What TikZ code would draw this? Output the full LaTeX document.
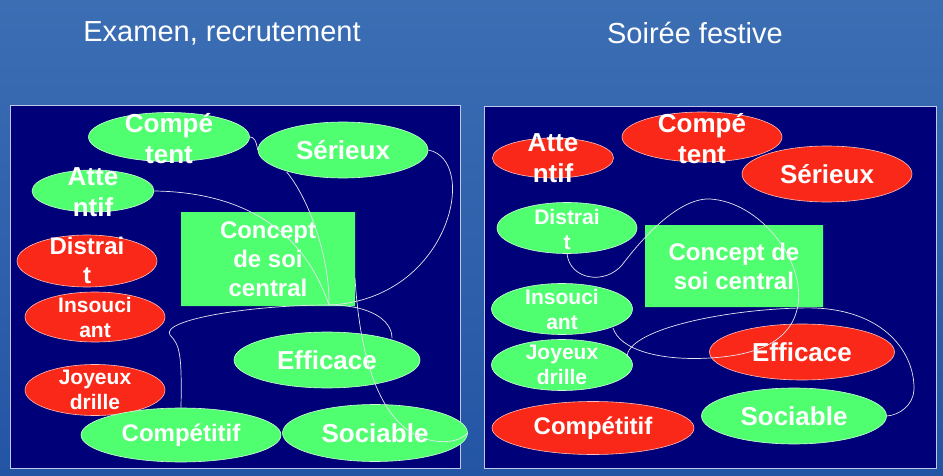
\documentclass[tikz,border=0pt]{standalone}
\usepackage{fontspec}
\setmainfont{Liberation Sans}
\usetikzlibrary{shapes.geometric,shapes.misc}
\definecolor{bgA}{RGB}{60,110,180}
\definecolor{bgB}{RGB}{35,85,165}
\definecolor{navy}{RGB}{0,0,120}
\definecolor{gr}{RGB}{80,255,112}
\definecolor{rd}{RGB}{250,40,25}
\definecolor{edge}{RGB}{190,200,235}
\tikzset{
  panel/.style={fill=navy,draw=edge,line width=0.8pt},
  gE/.style={ellipse,fill=gr,draw=white!70!gr,line width=0.6pt,inner sep=0pt},
  rE/.style={ellipse,fill=rd,draw=white!70!rd,line width=0.6pt,inner sep=0pt},
  oct/.style={chamfered rectangle,fill=gr,inner sep=0pt},
  txt/.style={text=white,font=\bfseries\fontsize{24}{29}\selectfont,align=center,inner sep=0pt},
  stxt/.style={text=white,font=\bfseries\fontsize{21}{25}\selectfont,align=center,inner sep=0pt},
  btxt/.style={text=white,font=\bfseries\fontsize{26}{31}\selectfont,align=center,inner sep=0pt},
  wire/.style={draw=white!90!navy,line width=0.7pt},
  title/.style={text=white,font=\fontsize{29}{34}\selectfont,inner sep=0pt}
}
\begin{document}
\begin{tikzpicture}[x=1pt,y=-1pt]
\useasboundingbox (0,0) rectangle (943,476);
\shade[top color=bgA,bottom color=bgB] (0,0) rectangle (943,476);
\node[title] (t1) at (222,33) {Examen, recrutement};
\node[title] (t2) at (695,33) {Soirée festive};
\draw[panel] (10,105) rectangle (460,468);
\draw[panel] (484,106) rectangle (936,468);
% ---- left panel
\node[gE,minimum width=161,minimum height=49] (lcomp) at (169,137) {};
\node[btxt] at (169,139) {Compé\\tent};
\node[gE,minimum width=170,minimum height=56] (lser) at (343,150) {};
\node[btxt] at (lser) {Sérieux};
\node[gE,minimum width=122,minimum height=42] (latt) at (93,191) {};
\node[btxt] at (93,192) {Atte\\ntif};
\node[oct,minimum width=174,minimum height=94,chamfered rectangle xsep=27pt,chamfered rectangle ysep=27pt] (lcon) at (268,259) {};
\node[txt] at (268,259) {Concept\\de soi\\central};
\node[rE,minimum width=140,minimum height=52] (ldis) at (87,261) {};
\node[txt] at (87,260) {Distrai\\t};
\node[rE,minimum width=140,minimum height=50] (lins) at (95,317) {};
\node[stxt] at (95,317) {Insouci\\ant};
\node[gE,minimum width=186,minimum height=56] (leff) at (327,360) {};
\node[btxt] at (leff) {Efficace};
\node[rE,minimum width=140,minimum height=51] (ljoy) at (95,390) {};
\node[stxt] at (95,390) {Joyeux\\drille};
\node[gE,minimum width=200,minimum height=54] (lcpt) at (181,435) {};
\node[txt] at (lcpt) {Compétitif};
\node[gE,minimum width=185,minimum height=57] (lsoc) at (375,433) {};
\node[btxt] at (lsoc) {Sociable};
\coordinate (lj) at (329,305);
\draw[wire] (lcomp.east) .. controls (254,137) and (256,140) .. (lser.west);
\draw[wire] (latt.east) .. controls (230,192) and (300,220) .. (lj);
\draw[wire] (lser.south west) ++(4,2) .. controls (310,200) and (330,260) .. (lj);
\draw[wire] (lser.east) .. controls (480,160) and (450,300) .. (lj);
\draw[wire] (lj) .. controls (250,305) and (160,320) .. (170,335) .. controls (180,345) and (182,355) .. (lcpt.north);
\draw[wire] (lj) .. controls (370,305) and (392,320) .. (392,338);
\draw[wire] (355,278) .. controls (360,360) and (380,420) .. (420,437) .. controls (440,445) and (460,442) .. (lsoc.east);
% ---- right panel
\node[rE,minimum width=121,minimum height=40] (ratt) at (553,158) {};
\node[btxt] at (553,158) {Atte\\ntif};
\node[rE,minimum width=160,minimum height=50] (rcomp) at (702,137) {};
\node[btxt] at (702,139) {Compé\\tent};
\node[rE,minimum width=170,minimum height=56] (rser) at (827,174) {};
\node[btxt] at (rser) {Sérieux};
\node[gE,minimum width=140,minimum height=51] (rdis) at (567,228) {};
\node[stxt] at (567,229) {Distrai\\t};
\node[oct,minimum width=178,minimum height=82,chamfered rectangle xsep=24pt,chamfered rectangle ysep=24pt] (rcon) at (734,266) {};
\node[txt] at (734,266) {Concept de\\soi central};
\node[gE,minimum width=141,minimum height=51] (rins) at (562,309) {};
\node[stxt] at (562,309) {Insouci\\ant};
\node[gE,minimum width=141,minimum height=51] (rjoy) at (562,365) {};
\node[stxt] at (562,365) {Joyeux\\drille};
\node[rE,minimum width=185,minimum height=56] (reff) at (802,352) {};
\node[btxt] at (reff) {Efficace};
\node[rE,minimum width=202,minimum height=53] (rcpt) at (593,428) {};
\node[txt] at (rcpt) {Compétitif};
\node[gE,minimum width=185,minimum height=56] (rsoc) at (794,416) {};
\node[btxt] at (rsoc) {Sociable};
\draw[wire] (rdis.south) .. controls (570,280) and (605,285) .. (622,265) .. controls (660,215) and (690,198) .. (710,199) .. controls (760,202) and (805,260) .. (798,305) .. controls (792,340) and (760,355) .. (710,358) .. controls (660,361) and (620,350) .. (613,328);
\draw[wire] (rjoy.east) ++(-6,-8) .. controls (628,330) and (720,310) .. (800,308) .. controls (880,305) and (915,350) .. (914,390) .. controls (913,405) and (900,415) .. (rsoc.east);
\end{tikzpicture}
\end{document}
